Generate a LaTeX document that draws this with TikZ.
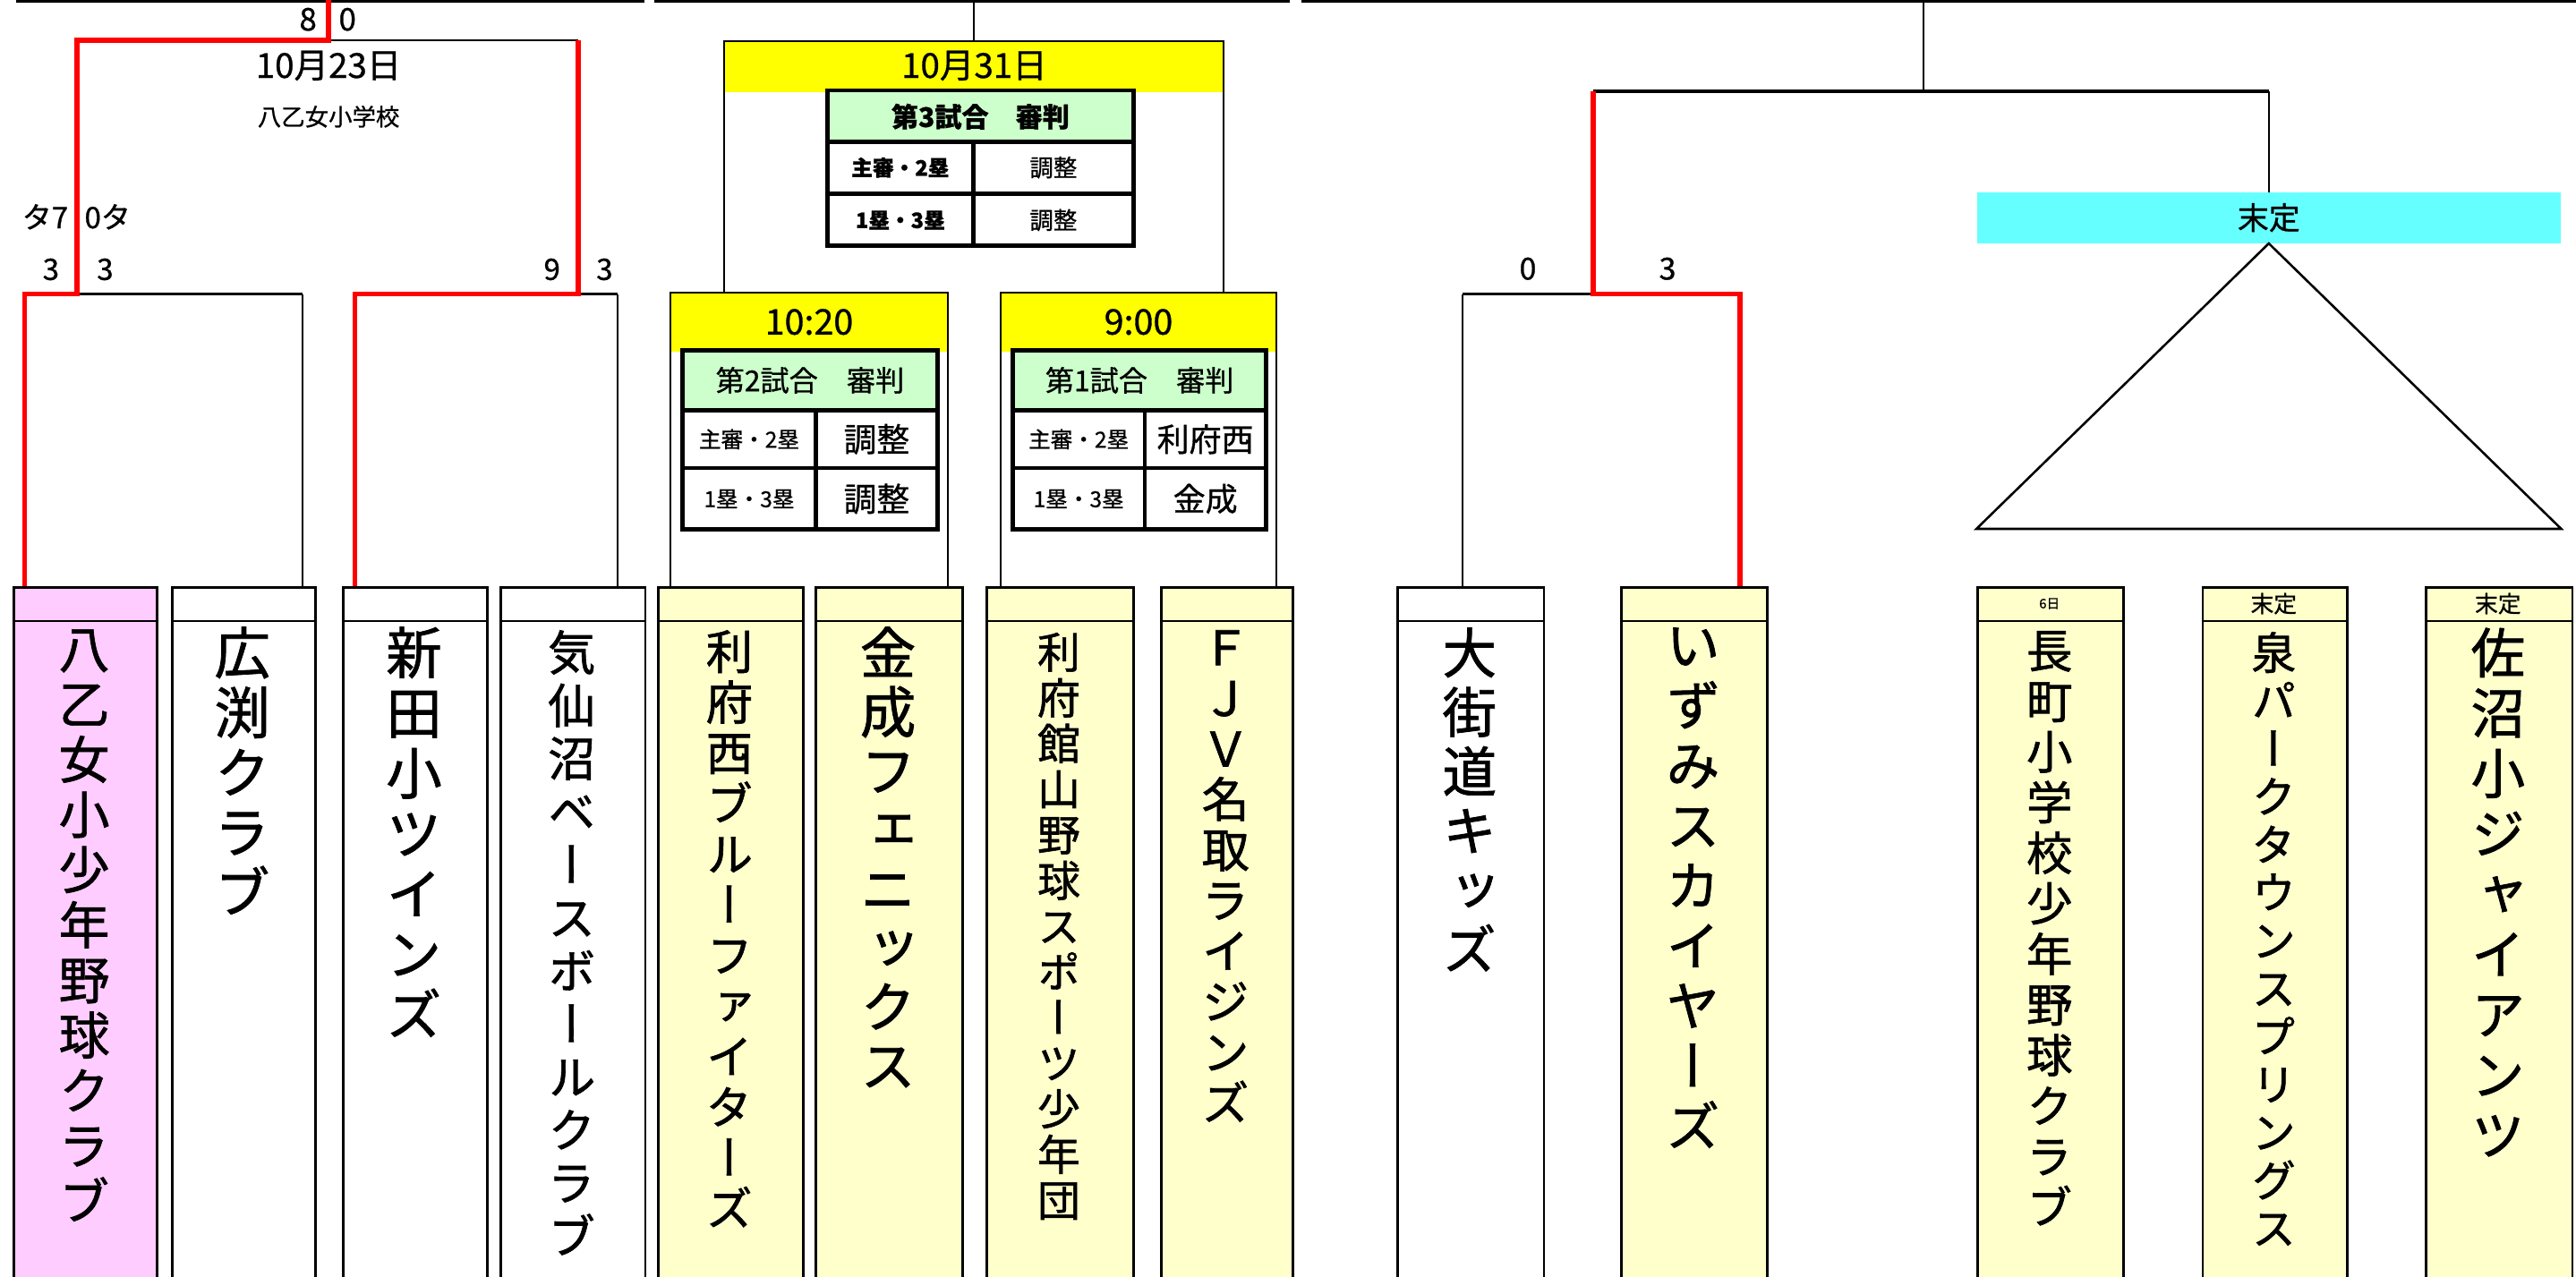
\documentclass[tikz,border=0pt]{standalone}
\usepackage{fontspec}
\setmainfont{Noto Sans CJK JP}[FakeBold=0.8]
\newfontfamily\vjp[RawFeature={+vert},FakeBold=1.2]{Noto Sans CJK JP}
\definecolor{pinkfill}{RGB}{255,204,255}
\definecolor{creamfill}{RGB}{255,255,204}
\definecolor{yellowfill}{RGB}{255,255,0}
\definecolor{greenfill}{RGB}{204,255,204}
\definecolor{cyanfill}{RGB}{102,255,255}
\definecolor{winred}{RGB}{255,0,0}
\newcommand{\fs}[1]{\fontsize{#1}{#1}\selectfont}
\begin{document}
\begin{tikzpicture}[x=1pt,y=-1pt,
  thin/.style={line width=1.1pt},
  mid/.style={line width=1.8pt},
  win/.style={line width=3.2pt, draw=winred},
  tbl/.style={line width=2.5pt},
  teambox/.style={draw, line width=1.6pt, anchor=north west, minimum height=430pt, inner sep=0pt},
  vname/.style={inner sep=0pt, align=center, anchor=north},
  lbl/.style={inner sep=0pt}]
\useasboundingbox (0,0) rectangle (1568,777);

% ---------- top line ----------
\draw[line width=1.8pt] (10,0.5) -- (392,0.5);
\draw[line width=1.8pt] (398.5,0.5) -- (785,0.5);
\draw[line width=1.8pt] (792,0.5) -- (1568,0.5);

% ---------- team boxes ----------
\node[teambox, fill=pinkfill,  minimum width=87.5pt] (t1)  at (7.5,357) {};
\node[teambox, fill=white,     minimum width=87pt]   (t2)  at (104,357) {};
\node[teambox, fill=white,     minimum width=88pt]   (t3)  at (208,357) {};
\node[teambox, fill=white,     minimum width=88pt]   (t4)  at (304,357) {};
\node[teambox, fill=creamfill, minimum width=88pt]   (t5)  at (400,357) {};
\node[teambox, fill=creamfill, minimum width=89pt]   (t6)  at (496,357) {};
\node[teambox, fill=creamfill, minimum width=89pt]   (t7)  at (600,357) {};
\node[teambox, fill=creamfill, minimum width=80pt]   (t8)  at (706,357) {};
\node[teambox, fill=white,     minimum width=89pt]   (t9)  at (850,357) {};
\node[teambox, fill=creamfill, minimum width=89pt]   (t10) at (986,357) {};
\node[teambox, fill=creamfill, minimum width=89pt]   (t11) at (1203,357) {};
\node[teambox, fill=creamfill, minimum width=88pt]   (t12) at (1340,357) {};
\node[teambox, fill=creamfill, minimum width=89pt]   (t13) at (1476,357) {};
\foreach \t in {t1,t2,t3,t4,t5,t6,t7,t8,t9,t10,t11,t12,t13}{
  \draw[thin] ([yshift=-21pt]\t.north west) -- ([yshift=-21pt]\t.north east);
}

% header band labels
\node[lbl, font=\fs{8}]  (h11) at (1247.5,367.5) {6日};
\node[lbl, font=\fs{14}] (h12) at (1384,367.5) {末定};
\node[lbl, font=\fs{14}] (h13) at (1520.5,367.5) {末定};

% ---------- team names (vertical) ----------
\node[vname, font=\vjp\fontsize{31}{33.6}\selectfont] (n1) at (51.25,383) {八\\乙\\女\\小\\少\\年\\野\\球\\ク\\ラ\\ブ};
\node[vname, font=\vjp\fontsize{34}{36.4}\selectfont] (n2) at (147.5,381.5) {広\\渕\\ク\\ラ\\ブ};
\node[vname, font=\vjp\fontsize{34}{36.7}\selectfont] (n3) at (252,381.5) {新\\田\\小\\ツ\\イ\\ン\\ズ};
\node[vname, font=\vjp\fontsize{29}{32.3}\selectfont] (n4) at (348,383.5) {気\\仙\\沼\\ベ\\ー\\ス\\ボ\\ー\\ル\\ク\\ラ\\ブ};
\node[vname, font=\vjp\fontsize{28.5}{30.8}\selectfont] (n5) at (444,383.5) {利\\府\\西\\ブ\\ル\\ー\\フ\\ァ\\イ\\タ\\ー\\ズ};
\node[vname, font=\vjp\fontsize{34}{35.9}\selectfont] (n6) at (540.5,381.5) {金\\成\\フ\\ェ\\ニ\\ッ\\ク\\ス};
\node[vname, font=\vjp\fontsize{26}{27.8}\selectfont] (n7) at (644.5,385) {利\\府\\館\\山\\野\\球\\ス\\ポ\\ー\\ツ\\少\\年\\団};
\node[vname, font=\vjp\fontsize{29}{30.8}\selectfont] (n8) at (746,383.5) {Ｆ\\Ｊ\\Ｖ\\名\\取\\ラ\\イ\\ジ\\ン\\ズ};
\node[vname, font=\vjp\fontsize{33}{36.1}\selectfont] (n9) at (894.5,382) {大\\街\\道\\キ\\ッ\\ズ};
\node[vname, font=\vjp\fontsize{33}{36.6}\selectfont] (n10) at (1030.5,382) {い\\ず\\み\\ス\\カ\\イ\\ヤ\\ー\\ズ};
\node[vname, font=\vjp\fontsize{28}{30.8}\selectfont] (n11) at (1247.5,384) {長\\町\\小\\学\\校\\少\\年\\野\\球\\ク\\ラ\\ブ};
\node[vname, font=\vjp\fontsize{27}{29.2}\selectfont] (n12) at (1384,384.5) {泉\\パ\\ー\\ク\\タ\\ウ\\ン\\ス\\プ\\リ\\ン\\グ\\ス};
\node[vname, font=\vjp\fontsize{33}{36.7}\selectfont] (n13) at (1520.5,382) {佐\\沼\\小\\ジ\\ャ\\イ\\ア\\ン\\ツ};

% ---------- left bracket ----------
\draw[thin] (184,357) -- (184,179);
\draw[mid] (47,179) -- (184,179);
\draw[thin] (376,357) -- (376,179);
\draw[mid] (352,179) -- (376,179);
\draw[thin] (200,24.5) -- (352,24.5);
\draw[win] (15,357) -- (15,179) -- (47,179) -- (47,24.5) -- (200,24.5) -- (200,0);
\draw[win] (216,357) -- (216,179) -- (352,179) -- (352,24.5);

\node[lbl, font=\fs{19}] (sc8) at (187.5,11.8) {8};
\node[lbl, font=\fs{19}] (sc0) at (211.5,11.8) {0};
\node[lbl, font=\fs{21}] (d1) at (200,40) {10月23日};
\node[lbl, font=\fs{14.4}] (v1) at (200,71) {八乙女小学校};
\node[lbl, font=\fs{18}] (ta) at (27.5,132) {タ7};
\node[lbl, font=\fs{18}] (tb) at (65.5,132) {0タ};
\node[lbl, font=\fs{18}] (s1) at (31,164) {3};
\node[lbl, font=\fs{18}] (s2) at (64,164) {3};
\node[lbl, font=\fs{18}] (s3) at (336,164) {9};
\node[lbl, font=\fs{18}] (s4) at (368,164) {3};

% ---------- middle ----------
\draw[thin] (593,0) -- (593,25);
\fill[yellowfill] (440.5,25) rectangle (745,56);
\draw[thin] (440.5,178) -- (440.5,25) -- (745,25) -- (745,178);
\node[lbl, font=\fs{21}] (d2) at (593,40) {10月31日};

\fill[yellowfill] (408,178) rectangle (577,214);
\draw[thin] (408,357) -- (408,178) -- (577,178) -- (577,357);
\node[lbl, font=\fs{21.5}] (k2) at (492.5,196) {10:20};

\fill[yellowfill] (609,178) rectangle (777,214);
\draw[thin] (609,357) -- (609,178) -- (777,178) -- (777,357);
\node[lbl, font=\fs{21.5}] (k1) at (693,196) {9:00};

% table 3
\fill[greenfill] (503.6,55) rectangle (690,86.4);
\fill[white] (503.6,86.4) rectangle (690,149.5);
\draw[tbl] (503.6,55) rectangle (690,149.5);
\draw[tbl] (503.6,86.4) -- (690,86.4);
\draw[tbl] (503.6,118) -- (690,118);
\draw[tbl] (592.4,86.4) -- (592.4,149.5);
\node[lbl, font=\bfseries\fs{16.4}] (g3) at (596.8,71) {第3試合　審判};
\node[lbl, font=\bfseries\fs{12.9}] (g3a) at (548,102) {主審・2塁};
\node[lbl, font=\bfseries\fs{12.9}] (g3b) at (548,134) {1塁・3塁};
\node[lbl, font=\fs{14.4}] (g3c) at (641.2,102) {調整};
\node[lbl, font=\fs{14.4}] (g3d) at (641.2,134) {調整};

% table 2
\fill[greenfill] (415.4,213.4) rectangle (570.6,249.7);
\fill[white] (415.4,249.7) rectangle (570.6,322.4);
\draw[tbl] (415.4,213.4) rectangle (570.6,322.4);
\draw[tbl] (415.4,249.7) -- (570.6,249.7);
\draw[tbl] (415.4,285) -- (570.6,285);
\draw[tbl] (496.6,249.7) -- (496.6,322.4);
\node[lbl, font=\fs{17.5}] (g2) at (493,231.5) {第2試合　審判};
\node[lbl, font=\fs{13.4}] (g2a) at (456,267.4) {主審・2塁};
\node[lbl, font=\fs{13.4}] (g2b) at (456,303.7) {1塁・3塁};
\node[lbl, font=\fs{20}] (g2c) at (533.6,267.4) {調整};
\node[lbl, font=\fs{20}] (g2d) at (533.6,303.7) {調整};

% table 1
\fill[greenfill] (616.5,213.4) rectangle (770.7,249.7);
\fill[white] (616.5,249.7) rectangle (770.7,322.4);
\draw[tbl] (616.5,213.4) rectangle (770.7,322.4);
\draw[tbl] (616.5,249.7) -- (770.7,249.7);
\draw[tbl] (616.5,285) -- (770.7,285);
\draw[tbl] (696.8,249.7) -- (696.8,322.4);
\node[lbl, font=\fs{17.5}] (g1) at (693.6,231.5) {第1試合　審判};
\node[lbl, font=\fs{13.4}] (g1a) at (656.6,267.4) {主審・2塁};
\node[lbl, font=\fs{13.4}] (g1b) at (656.6,303.7) {1塁・3塁};
\node[lbl, font=\fs{19.6}] (g1c) at (733.7,267.4) {利府西};
\node[lbl, font=\fs{19.6}] (g1d) at (733.7,303.7) {金成};

% ---------- right ----------
\draw[thin] (890,357) -- (890,179);
\draw[mid] (890,179) -- (970,179);
\draw[mid] (970,55.5) -- (1381,55.5);
\draw[thin] (1171,0) -- (1171,55.5);
\draw[thin] (1381,55.5) -- (1381,117);
\draw[win] (1059,357) -- (1059,179) -- (970,179) -- (970,55.5);
\node[lbl, font=\fs{18.5}] (r0) at (930,163.6) {0};
\node[lbl, font=\fs{18.5}] (r3) at (1015,163.6) {3};

\node[fill=cyanfill, minimum width=355.5pt, minimum height=31pt, inner sep=0pt, font=\fs{19}] (tbd) at (1381,132.5) {末定};
\draw[line width=1.4pt] (tbd.south) -- (1203,322) -- (1559,322) -- cycle;
\end{tikzpicture}
\end{document}
